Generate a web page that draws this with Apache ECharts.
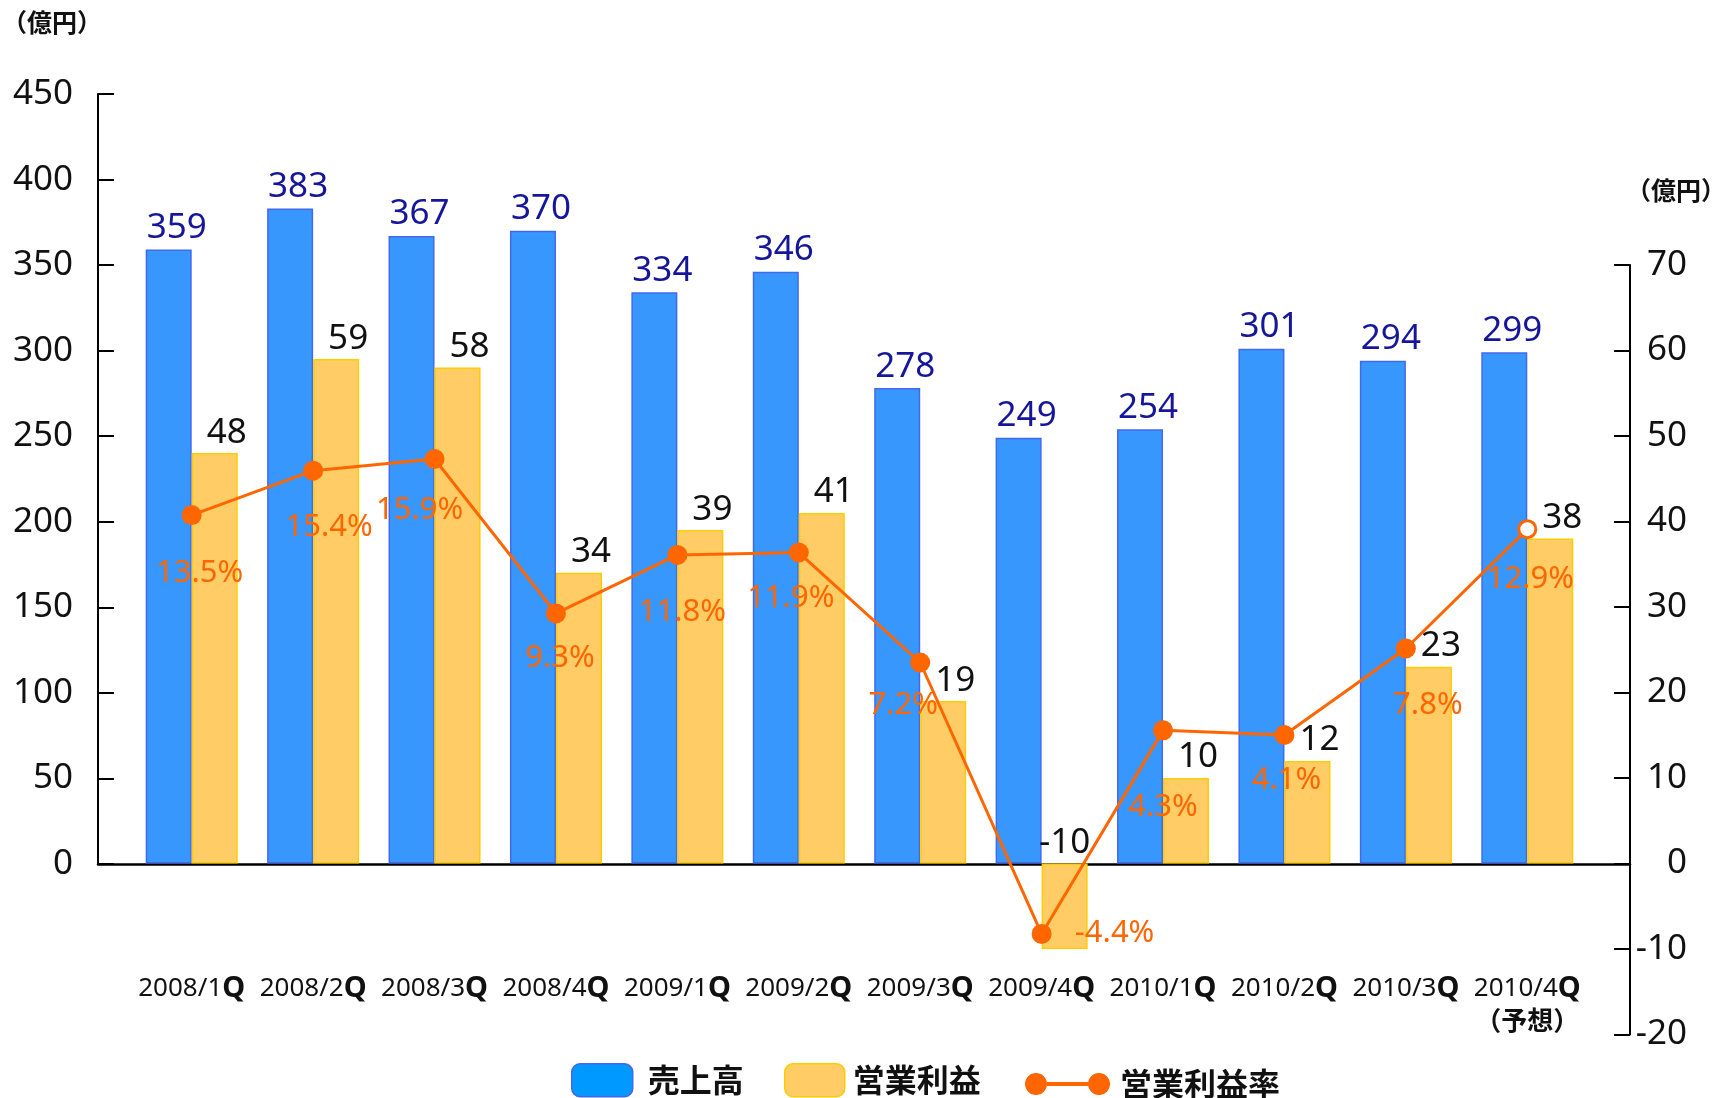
<!DOCTYPE html>
<html>
<head>
<meta charset="utf-8">
<title>売上高・営業利益</title>
<script src="https://cdn.jsdelivr.net/npm/echarts@6/dist/echarts.min.js"></script>
<style>
  html, body { margin: 0; padding: 0; background: #fff; }
  #chart { width: 1715px; height: 1098px; }
</style>
</head>
<body>
<div id="chart"></div>
<script>
// data
var quarters = ['2008/1Q', '2008/2Q', '2008/3Q', '2008/4Q', '2009/1Q', '2009/2Q',
  '2009/3Q', '2009/4Q', '2010/1Q', '2010/2Q', '2010/3Q', '2010/4Q']
var forecastIndex = 11
var sales = [359, 383, 367, 370, 334, 346, 278, 249, 254, 301, 294, 299]
var profit = [48, 59, 58, 34, 39, 41, 19, -10, 10, 12, 23, 38]
var profitRate = [13.5, 15.4, 15.9, 9.3, 11.8, 11.9, 7.2, -4.4, 4.3, 4.1, 7.8, 12.9]

// label placement of the rate values (px from the point)
var rateLabelOffsets = [[8, 58], [16, 57], [-15, 51], [4, 45], [5, 57], [-8, 46],
  [-17, 43], [73, -1], [0, 77], [2, 45], [22, 57], [3, 50]]

var FONT = 'Noto Sans CJK JP'
var NUM_FONT = 'Noto Sans'
var ORANGE = '#ff6600'

var chart = echarts.init(document.getElementById('chart'))

var frameLine = { show: true, onZero: false, lineStyle: { color: '#000', width: 2 } }
var frameTick = { show: true, inside: true, length: 16, lineStyle: { color: '#000', width: 2 } }
var legendText = { fontSize: 32, fontWeight: 'bold', color: '#111', fontFamily: FONT }

var option = {
  animation: false,
  textStyle: { fontFamily: FONT },
  grid: [
    // data grid (categories only span the inner part)
    { left: 131, right: 127, top: 94, bottom: 63.5, outerBoundsMode: 'none' },
    // left axis frame 0..450
    { left: 98, right: 85, top: 94, bottom: 234, outerBoundsMode: 'none' },
    // right axis frame -20..70
    { left: 98, right: 85, top: 265, bottom: 63.5, outerBoundsMode: 'none' }
  ],
  xAxis: [
    {
      gridIndex: 0,
      type: 'category',
      data: quarters,
      // move the labels up to the zero line of the value axes
      offset: -170.5,
      axisLine: { show: false, onZero: false },
      axisTick: { show: false },
      axisLabel: {
        margin: 109,
        interval: 0,
        color: '#111',
        formatter: function (v, i) {
          var s = '{n|' + v.slice(0, -1) + '}{q|Q}'
          if (i === forecastIndex) s += '\n{f|（予想）}'
          return s
        },
        rich: {
          n: { fontSize: 26, lineHeight: 32, color: '#111', fontFamily: NUM_FONT },
          q: { fontSize: 29, lineHeight: 32, fontWeight: 'bold', color: '#111', fontFamily: NUM_FONT },
          f: { fontSize: 26, lineHeight: 30, fontWeight: 'bold', color: '#111', fontFamily: FONT }
        }
      }
    },
    {
      gridIndex: 1,
      type: 'value',
      min: 0,
      max: 1,
      axisLine: { show: true, onZero: false, lineStyle: { color: '#000', width: 2.5 } },
      axisTick: { show: false },
      axisLabel: { show: false },
      splitLine: { show: false }
    },
    { gridIndex: 2, type: 'value', min: 0, max: 1, show: false }
  ],
  yAxis: [
    { gridIndex: 0, type: 'value', min: -100, max: 450, interval: 50, show: false },
    { gridIndex: 0, type: 'value', min: -20, max: 90, interval: 10, show: false },
    { gridIndex: 0, type: 'value', min: -8.7, max: 31.5, show: false },
    {
      gridIndex: 1,
      type: 'value',
      min: 0,
      max: 450,
      interval: 50,
      axisLine: frameLine,
      axisTick: frameTick,
      axisLabel: { margin: 25, fontSize: 35, color: '#111', fontFamily: NUM_FONT },
      splitLine: { show: false }
    },
    {
      gridIndex: 2,
      type: 'value',
      position: 'right',
      min: -20,
      max: 70,
      interval: 10,
      axisLine: frameLine,
      axisTick: frameTick,
      axisLabel: { margin: 57, align: 'right', fontSize: 35, color: '#111', fontFamily: NUM_FONT },
      splitLine: { show: false }
    }
  ],
  legend: [
    {
      data: [{ name: '売上高', itemStyle: { color: '#0099ff', borderColor: '#4466ee', borderWidth: 1.5 } }],
      left: 571, top: 1063, padding: 0, itemWidth: 61, itemHeight: 33, selectedMode: false,
      textStyle: Object.assign({ padding: [0, 0, 0, 10] }, legendText)
    },
    {
      data: [{ name: '営業利益', itemStyle: { color: '#ffcc66', borderColor: '#ffcc00', borderWidth: 1.5 } }],
      left: 784, top: 1063, padding: 0, itemWidth: 60, itemHeight: 33, selectedMode: false,
      textStyle: Object.assign({ padding: [0, 0, 0, 3] }, legendText)
    },
    {
      data: [{
        name: '営業利益率',
        icon: 'path://M0,11 A11,11 0 1,1 22,11 A11,11 0 1,1 0,11 Z M63,11 A11,11 0 1,1 85,11 A11,11 0 1,1 63,11 Z M22,9 L63,9 L63,13 L22,13 Z',
        itemStyle: { color: ORANGE, borderWidth: 0 }
      }],
      left: 1025, top: 1068, padding: 0, itemWidth: 85, itemHeight: 22, selectedMode: false,
      textStyle: Object.assign({ padding: [0, 0, 0, 5] }, legendText)
    }
  ],
  graphic: [
    {
      type: 'text', left: 2, top: 10,
      style: { text: '（億円）', fontSize: 25, fontWeight: 'bold', fill: '#111', fontFamily: FONT }
    },
    {
      type: 'text', left: 1626, top: 178,
      style: { text: '（億円）', fontSize: 25, fontWeight: 'bold', fill: '#111', fontFamily: FONT }
    }
  ],
  series: [
    {
      name: '売上高',
      type: 'bar',
      xAxisIndex: 0,
      yAxisIndex: 0,
      data: sales,
      barWidth: 46,
      barGap: '0%',
      itemStyle: { color: '#3897fd', borderColor: '#4169f0', borderWidth: 1.5 },
      label: { show: true, position: 'top', distance: 4, offset: [8, 0], fontSize: 35, color: '#16169a', fontFamily: NUM_FONT },
      z: 2
    },
    {
      name: '営業利益',
      type: 'bar',
      xAxisIndex: 0,
      yAxisIndex: 1,
      data: profit.map(function (v) {
        return v < 0 ? { value: v, label: { offset: [0, 0] } } : v
      }),
      barWidth: 46,
      itemStyle: { color: '#ffcc66', borderColor: '#ffcc00', borderWidth: 1.5 },
      label: { show: true, position: 'top', distance: 3, offset: [12, 0], fontSize: 35, color: '#111', fontFamily: NUM_FONT },
      z: 2
    },
    {
      name: '営業利益率',
      type: 'line',
      xAxisIndex: 0,
      yAxisIndex: 2,
      data: profitRate.map(function (v, i) {
        var item = { value: v, label: { offset: rateLabelOffsets[i] } }
        if (i === forecastIndex) {
          item.symbolSize = 17
          item.itemStyle = { color: '#fff', borderColor: ORANGE, borderWidth: 3 }
        }
        return item
      }),
      symbol: 'circle',
      symbolSize: 20,
      lineStyle: { color: ORANGE, width: 3 },
      itemStyle: { color: ORANGE },
      label: {
        show: true,
        position: 'inside',
        fontSize: 31,
        color: ORANGE,
        fontFamily: NUM_FONT,
        formatter: function (p) { return p.value.toFixed(1) + '%' }
      },
      z: 5
    }
  ]
}

chart.setOption(option)
</script>
</body>
</html>
